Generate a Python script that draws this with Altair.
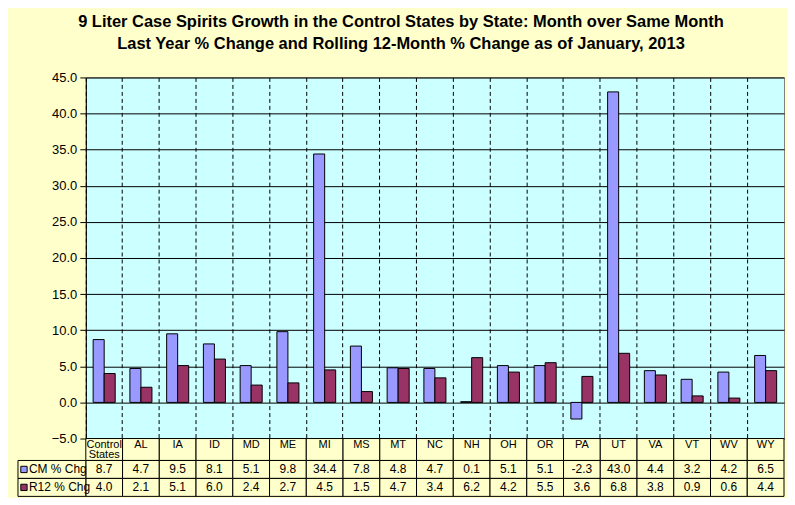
import altair as alt
import pandas as pd

states = ["Control States", "AL", "IA", "ID", "MD", "ME", "MI", "MS", "MT", "NC",
          "NH", "OH", "OR", "PA", "UT", "VA", "VT", "WV", "WY"]
cm_values = [8.7, 4.7, 9.5, 8.1, 5.1, 9.8, 34.4, 7.8, 4.8, 4.7,
             0.1, 5.1, 5.1, -2.3, 43.0, 4.4, 3.2, 4.2, 6.5]
r12_values = [4.0, 2.1, 5.1, 6.0, 2.4, 2.7, 4.5, 1.5, 4.7, 3.4,
              6.2, 4.2, 5.5, 3.6, 6.8, 3.8, 0.9, 0.6, 4.4]
series = ["CM % Chg", "R12 % Chg"]
colors = ["#9999FF", "#993366"]
y_ticks = [-5, 0, 5, 10, 15, 20, 25, 30, 35, 40, 45]
title_lines = ["9 Liter Case Spirits Growth in the Control States by State: Month over Same Month",
               "Last Year % Change and Rolling 12-Month % Change as of January, 2013"]

FONT = "Liberation Sans"
BG = "#FFFFCC"
W = 700

bars_df = pd.DataFrame({
    "state": states * 2,
    "series": [series[0]] * len(states) + [series[1]] * len(states),
    "value": cm_values + r12_values,
})

cat_df = pd.DataFrame({"state": states, "text": [s.replace(" ", "\n") for s in states]})

recs = []
for i, s in enumerate(states):
    recs.append({"state": s, "row": series[0], "text": f"{cm_values[i]:.1f}"})
    recs.append({"state": s, "row": series[1], "text": f"{r12_values[i]:.1f}"})
table_df = pd.DataFrame(recs)
legend_df = pd.DataFrame({"row": series})

color_scale = alt.Scale(domain=series, range=colors)
xband = alt.Scale(paddingInner=0, paddingOuter=0)

top = alt.Chart(bars_df).mark_bar(stroke="black", strokeWidth=1).encode(
    x=alt.X("state:N", sort=states, scale=xband,
            axis=alt.Axis(labels=False, ticks=False, domain=False, title=None,
                          grid=True, gridColor="black", gridDash=[4, 3],
                          gridWidth=1, gridOpacity=1, bandPosition=0)),
    xOffset=alt.XOffset("series:N", sort=series,
                        scale=alt.Scale(paddingInner=0, paddingOuter=0.667)),
    y=alt.Y("value:Q", scale=alt.Scale(domain=[-5, 45], nice=False, zero=False),
            axis=alt.Axis(values=y_ticks, format=".1f", title=None, grid=True,
                          gridColor="black", gridWidth=1, gridOpacity=1,
                          domainColor="black", tickColor="black", tickSize=6,
                          labelFont=FONT, labelFontSize=13, labelColor="black",
                          labelPadding=3)),
    color=alt.Color("series:N", scale=color_scale, legend=None),
).properties(width=W, height=362,
             view=alt.ViewBackground(fill="#CCFFFF", stroke="#808080"))

# category row of the data table
cbase = alt.Chart(cat_df).encode(
    x=alt.X("state:N", sort=states, scale=xband, axis=None))
cat_cells = cbase.mark_rect(fill=BG, stroke="black", strokeWidth=1)
cat_text = cbase.mark_text(font=FONT, fontSize=11, lineBreak="\n", color="black",
                           lineHeight=11, baseline="middle", dy=-5).encode(text="text:N")
cat_row = alt.layer(cat_cells, cat_text).properties(
    width=W, height=22, view=alt.ViewBackground(fill=None, stroke=None))

# value rows of the data table
ysc = alt.Scale(paddingInner=0, paddingOuter=0)
base = alt.Chart(table_df).encode(
    x=alt.X("state:N", sort=states, scale=xband, axis=None),
    y=alt.Y("row:N", sort=series, scale=ysc, axis=None),
)
cells = base.mark_rect(fill=BG, stroke="black", strokeWidth=1)
texts = base.mark_text(font=FONT, fontSize=12, color="black").encode(text="text:N")

leg = alt.Chart(legend_df).encode(y=alt.Y("row:N", sort=series, scale=ysc, axis=None))
leg_cells = leg.mark_rect(fill=BG, stroke="black", strokeWidth=1).encode(
    x=alt.value(-68), x2=alt.value(0))
leg_sym = leg.mark_point(shape="square", filled=True, size=40, stroke="black",
                         strokeWidth=1, opacity=1).encode(
    x=alt.value(-62),
    color=alt.Color("row:N", scale=color_scale, legend=None))
leg_txt = leg.mark_text(align="left", font=FONT, fontSize=12, color="black").encode(
    x=alt.value(-57), text="row:N")

table = alt.layer(cells, texts, leg_cells, leg_sym, leg_txt).properties(
    width=W, height=36, view=alt.ViewBackground(fill=None, stroke=None))

chart = alt.vconcat(top, cat_row, table, spacing=0, bounds="flush").properties(
    title=alt.Title(text=title_lines, font=FONT, fontSize=16.5, fontWeight="bold",
                    color="black", anchor="middle", lineHeight=22, offset=19),
    padding={"left": 9, "top": 5, "right": 2, "bottom": 0},
    background=BG,
)

chart.save("out.html", embed_options={"renderer": "svg", "actions": False})
